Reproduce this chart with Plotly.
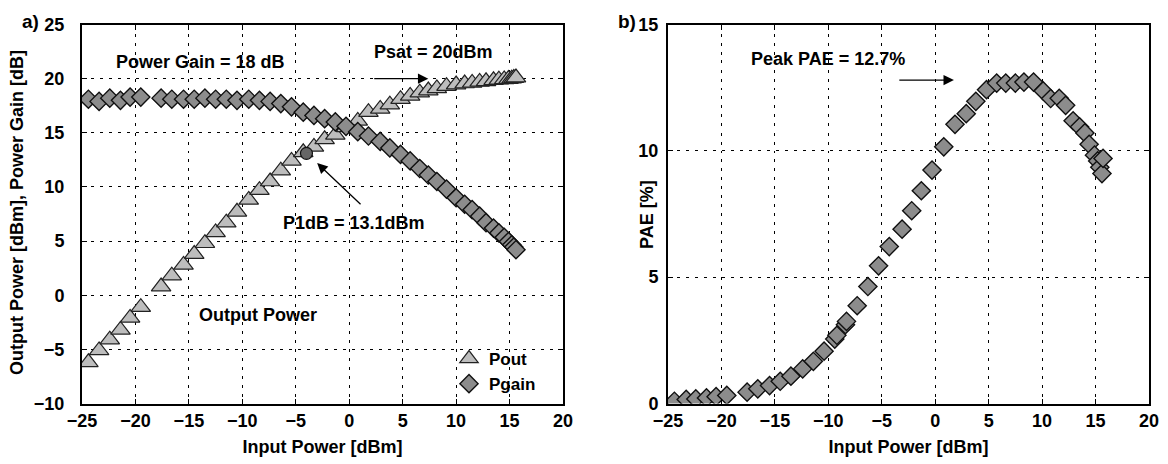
import plotly.graph_objects as go

# ---------------- data ----------------
pin = [-24.4, -23.4, -22.4, -21.4, -20.5, -19.5, -17.6, -16.6, -15.5, -14.5,
       -13.5, -12.5, -11.5, -10.5, -9.4, -8.4, -7.4, -6.4, -5.4, -4.3,
       -3.3, -2.3, -1.3, -0.3, 0.8, 1.8, 2.9, 3.8, 4.8, 5.7,
       6.6, 7.4, 8.2, 9.1, 10.0, 10.8, 11.5, 12.2, 12.8, 13.5,
       14.0, 14.5, 14.9, 15.2, 15.4, 15.6]
pout = [-6.2, -5.1, -4.1, -3.2, -2.1, -1.1, 0.8, 1.8, 2.8, 3.8,
        4.8, 5.8, 6.7, 7.7, 8.8, 9.7, 10.5, 11.5, 12.4, 13.2,
        13.7, 14.4, 14.8, 15.5, 16.1, 16.9, 17.2, 17.6, 18.1, 18.4,
        18.7, 18.9, 19.1, 19.3, 19.45, 19.55, 19.6, 19.7, 19.75, 19.85,
        19.9, 19.93, 19.96, 20.0, 20.05, 20.1]
pgain = [18.1, 17.9, 18.2, 18.0, 18.3, 18.3, 18.2, 18.1, 18.1, 18.1,
         18.2, 18.1, 18.1, 18.0, 18.1, 18.0, 17.9, 17.7, 17.4, 16.9,
         16.6, 16.3, 16.0, 15.6, 15.1, 14.7, 14.2, 13.6, 13.0, 12.4,
         11.7, 11.1, 10.5, 9.8, 9.0, 8.4, 7.9, 7.3, 6.7, 6.2,
         5.75, 5.35, 4.95, 4.65, 4.45, 4.2]
p1db_in = [-4.0]
p1db_out = [13.1]

pae_pin = [-24.4, -23.3, -22.4, -21.4, -20.5, -19.5, -17.6, -16.6, -15.5, -14.5,
           -13.5, -12.4, -11.4, -10.4, -9.4, -9.2, -8.4, -8.3, -7.3, -6.3,
           -5.3, -4.3, -3.1, -2.2, -1.3, -0.3, 0.8, 1.85, 2.9, 3.8,
           4.8, 5.75, 6.6, 7.5, 8.3, 9.2, 10.1, 10.8, 11.6, 12.2,
           12.9, 13.5, 14.0, 14.4, 14.9, 15.2, 15.4, 15.6, 15.7]
pae = [0.09, 0.16, 0.18, 0.22, 0.27, 0.32, 0.45, 0.58, 0.71, 0.88,
       1.08, 1.37, 1.67, 2.07, 2.55, 2.7, 3.12, 3.25, 3.87, 4.63,
       5.45, 6.21, 6.9, 7.63, 8.42, 9.24, 10.16, 11.05, 11.47, 11.96,
       12.42, 12.68, 12.68, 12.68, 12.72, 12.72, 12.37, 12.07, 12.08, 11.8,
       11.19, 10.95, 10.71, 10.26, 9.83, 9.6, 9.35, 9.1, 9.7]

x_ticks = [-25, -20, -15, -10, -5, 0, 5, 10, 15, 20]
y1_ticks = [-10, -5, 0, 5, 10, 15, 20, 25]
y2_ticks = [0, 5, 10, 15]

FONT = "Liberation Sans"
TRI_FILL = "#bdbdbd"
DIA_FILL = "#8c8c8c"

fig = go.Figure()

fig.add_trace(go.Scatter(
    x=pin, y=pout, mode="markers", name="Pout",
    marker=dict(symbol="triangle-up", size=17, color=TRI_FILL,
                line=dict(color="#222222", width=1.2)),
    xaxis="x", yaxis="y"))
fig.add_trace(go.Scatter(
    x=pin, y=pgain, mode="markers", name="Pgain",
    marker=dict(symbol="diamond", size=14, color=DIA_FILL,
                line=dict(color="#111111", width=1.4)),
    xaxis="x", yaxis="y"))
fig.add_trace(go.Scatter(
    x=p1db_in, y=p1db_out, mode="markers", name="P1dB", showlegend=False,
    marker=dict(symbol="circle", size=12, color="#666666",
                line=dict(color="#111111", width=1.2)),
    xaxis="x", yaxis="y"))
fig.add_trace(go.Scatter(
    x=pae_pin, y=pae, mode="markers", name="PAE", showlegend=False,
    marker=dict(symbol="diamond", size=14, color=DIA_FILL,
                line=dict(color="#111111", width=1.4)),
    xaxis="x2", yaxis="y2"))

# page has an 8px body margin, so figure coords = reference coords - 8
W, H = 1160, 456
L1, R1 = 74 / W, 555 / W
L2, R2 = 660 / W, 1141 / W
YB, YT = 1 - 395.5 / H, 1 - 16.5 / H

axis_common = dict(
    showline=True, linecolor="black", linewidth=2, mirror="ticks",
    ticks="inside", ticklen=5, tickcolor="black", tickwidth=1,
    showgrid=True, gridcolor="black", gridwidth=1, griddash="3px,6px",
    zeroline=False, automargin=False,
    tickfont=dict(family=FONT, size=18, color="black", weight="bold"),
)

fig.update_layout(
    width=W, height=H,
    margin=dict(l=0, r=0, t=0, b=0),
    paper_bgcolor="white", plot_bgcolor="white",
    font=dict(family=FONT, color="black"),
    xaxis=dict(domain=[L1, R1], range=[-25, 20], tickvals=x_ticks, anchor="y",
               title=dict(text="<b>Input Power [dBm]</b>", standoff=10,
                          font=dict(family=FONT, size=18)),
               **axis_common),
    yaxis=dict(domain=[YB, YT], range=[-10, 25], tickvals=y1_ticks, anchor="x",
               ticklabelstandoff=12, **axis_common),
    xaxis2=dict(domain=[L2, R2], range=[-25, 20], tickvals=x_ticks, anchor="y2",
                title=dict(text="<b>Input Power [dBm]</b>", standoff=10,
                           font=dict(family=FONT, size=18)),
                **axis_common),
    yaxis2=dict(domain=[YB, YT], range=[0, 15], tickvals=y2_ticks, anchor="x2",
                ticklabelstandoff=4, **axis_common),
    showlegend=True,
    legend=dict(x=441 / W, y=1 - 394 / H,
                xanchor="left", yanchor="bottom",
                bgcolor="rgba(0,0,0,0)", borderwidth=0,
                font=dict(family=FONT, size=17, color="black", weight="bold"),
                itemwidth=30, tracegroupgap=0),
)

TF = dict(family=FONT, size=18, color="black", weight="bold")
ann = [
    dict(text="a)", xref="paper", yref="paper", x=12 / W, y=1 - 1 / H,
         showarrow=False, font=dict(family=FONT, size=19, weight="bold"),
         xanchor="left", yanchor="top"),
    dict(text="b)", xref="paper", yref="paper", x=608 / W, y=1 - 1 / H,
         showarrow=False, font=dict(family=FONT, size=19, weight="bold"),
         xanchor="left", yanchor="top"),
    dict(text="Output Power [dBm], Power Gain [dB]", xref="paper", yref="paper",
         x=9 / W, y=1 - 205 / H, textangle=-90, showarrow=False,
         xanchor="center", yanchor="middle", font=TF),
    dict(text="PAE [%]", xref="paper", yref="paper",
         x=639 / W, y=1 - 207 / H, textangle=-90, showarrow=False,
         xanchor="center", yanchor="middle", font=TF),
    dict(text="Power Gain = 18 dB", xref="x", yref="y", x=-13.95, y=21.5,
         showarrow=False, font=TF),
    dict(text="Psat = 20dBm", xref="x", yref="y", x=7.9, y=22.5,
         showarrow=False, font=TF),
    dict(text="P1dB = 13.1dBm", xref="x", yref="y", x=0.4, y=6.7,
         showarrow=False, font=TF),
    dict(text="Output Power", xref="x", yref="y", x=-8.5, y=-1.8,
         showarrow=False, font=TF),
    dict(text="Peak PAE = 12.7%", xref="x2", yref="y2", x=-10.0, y=13.62,
         showarrow=False, font=TF),
    # arrows
    dict(text="", xref="x", yref="y", x=7.4, y=20.0, axref="x", ayref="y",
         ax=2.2, ay=20.0, showarrow=True, arrowhead=2, arrowsize=1.6,
         arrowwidth=1.3, arrowcolor="black"),
    dict(text="", xref="x", yref="y", x=-3.0, y=12.2, axref="x", ayref="y",
         ax=1.2, ay=8.27, showarrow=True, arrowhead=2, arrowsize=1.6,
         arrowwidth=1.3, arrowcolor="black"),
    dict(text="", xref="x2", yref="y2", x=1.75, y=12.8, axref="x2", ayref="y2",
         ax=-3.5, ay=12.8, showarrow=True, arrowhead=2, arrowsize=1.6,
         arrowwidth=1.3, arrowcolor="black"),
]
fig.update_layout(annotations=ann)

fig.write_html("out.html")
